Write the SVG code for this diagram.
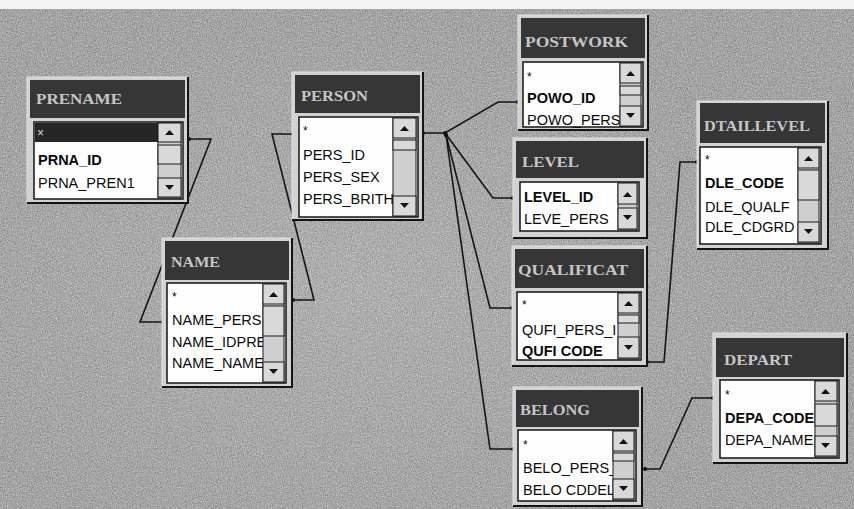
<svg xmlns="http://www.w3.org/2000/svg" width="854" height="509" viewBox="0 0 854 509">
<defs>
<filter id="noise" x="0" y="0" width="100%" height="100%" color-interpolation-filters="sRGB">
<feTurbulence type="fractalNoise" baseFrequency="0.8" numOctaves="2" seed="4" result="t"/>
<feColorMatrix in="t" type="matrix" values="0.4 0 0 0 0.44  0.4 0 0 0 0.44  0.4 0 0 0 0.44  0 0 0 0 1"/>
</filter>
<radialGradient id="glow" cx="0.42" cy="0.55" r="0.55">
<stop offset="0" stop-color="#ffffff" stop-opacity="0.12"/>
<stop offset="1" stop-color="#ffffff" stop-opacity="0"/>
</radialGradient>
<marker id="dot" viewBox="0 0 6 6" refX="3" refY="3" markerWidth="4" markerHeight="4" markerUnits="userSpaceOnUse">
<circle cx="3" cy="3" r="3" fill="#111"/>
</marker>
<style>
.frame{fill:#d2d2d2;stroke:#e2e2e2;stroke-width:1}
.shadow{fill:none;stroke:#141414;stroke-width:2}
.title{fill:#363636}
.ttext{font-family:"Liberation Serif","Times New Roman",serif;font-weight:bold;font-size:15px;fill:#c6c6c6}
.list{fill:#fdfdfd;stroke:#151515;stroke-width:1.5}
.row{font-family:"Liberation Sans",Arial,sans-serif;font-size:14.5px;fill:#0c0c0c}
.key{font-weight:bold}
.star{font-family:"Liberation Sans",Arial,sans-serif;font-size:12px;fill:#0c0c0c}
.sb{fill:#cfcfcf;stroke:#1a1a1a;stroke-width:1}
.btn{fill:#d9d9d9;stroke:#1a1a1a;stroke-width:1}
.arr{fill:#111}
.sel{fill:#262626}
.conn{fill:none;stroke:#151515;stroke-width:1.6;marker-start:url(#dot);marker-end:url(#dot)}
</style>
</defs>
<rect x="0" y="0" width="854" height="509" fill="#f4f4f4"/>
<rect x="0" y="9" width="854" height="500" fill="#a8a8a8" filter="url(#noise)"/>
<rect x="0" y="9" width="854" height="500" fill="url(#glow)"/>

<g id="connectors">
<path class="conn" d="M189,139 L211,139 L140,322 L163,322"/>
<path class="conn" d="M293,300 L314,300 L272,134 L293,134"/>
<path class="conn" d="M423,133 L445,133 L498,102 L518,102"/>
<path class="conn" d="M445,133 L493,198 L513,198"/>
<path class="conn" d="M446,135 L490,308 L512,308"/>
<path class="conn" d="M446,135 L490,449 L513,449"/>
<path class="conn" d="M647,362 L664,362 L680,162 L697,162"/>
<path class="conn" d="M645,469 L660,469 L692,398 L713,398"/>
</g>

<g id="prename">
<rect class="frame" x="27" y="77" width="161" height="126"/>
<path class="shadow" d="M188,77 V203 H27"/>
<rect class="title" x="30" y="80" width="155" height="38"/>
<text class="ttext" x="36" y="104" textLength="86" lengthAdjust="spacingAndGlyphs">PRENAME</text>
<rect class="list" x="34" y="122" width="149" height="77"/>
<rect class="sel" x="35" y="123" width="123" height="19"/>
<text class="star" x="37" y="137" style="fill:#dddddd">×</text>
<text class="row key" x="38" y="165">PRNA_ID</text>
<text class="row" x="38" y="188">PRNA_PREN1</text>
<rect class="sb" x="158" y="123" width="23" height="75"/>
<rect class="btn" x="158" y="123" width="23" height="19"/>
<polygon class="arr" points="165,135 174,135 169.5,130"/>
<rect class="btn" x="158" y="145" width="23" height="19"/>
<rect class="btn" x="158" y="178" width="23" height="19"/>
<polygon class="arr" points="165,185 174,185 169.5,190"/>
</g>

<g id="person">
<rect class="frame" x="292" y="72" width="131" height="148"/>
<path class="shadow" d="M423,72 V220 H292"/>
<rect class="title" x="295" y="75" width="125" height="38"/>
<text class="ttext" x="301" y="101" textLength="67" lengthAdjust="spacingAndGlyphs">PERSON</text>
<rect class="list" x="299" y="117" width="119" height="100"/>
<text class="star" x="303" y="135">*</text>
<text class="row" x="303" y="160">PERS_ID</text>
<text class="row" x="303" y="182">PERS_SEX</text>
<text class="row" x="303" y="204">PERS_BRITH</text>
<rect class="sb" x="393" y="118" width="23" height="98"/>
<rect class="btn" x="393" y="118" width="23" height="20"/>
<polygon class="arr" points="400,131 409,131 404.5,126"/>
<rect class="btn" x="393" y="140" width="23" height="10"/>
<rect class="btn" x="393" y="196" width="23" height="20"/>
<polygon class="arr" points="400,203 409,203 404.5,208"/>
</g>

<g id="name">
<rect class="frame" x="162" y="238" width="130" height="149"/>
<path class="shadow" d="M292,238 V387 H162"/>
<rect class="title" x="165" y="241" width="124" height="39"/>
<text class="ttext" x="171" y="267" textLength="49" lengthAdjust="spacingAndGlyphs">NAME</text>
<rect class="list" x="167" y="283" width="119" height="100"/>
<text class="star" x="172" y="301">*</text>
<text class="row" x="172" y="325">NAME_PERS</text>
<text class="row" x="172" y="347">NAME_IDPRE</text>
<text class="row" x="172" y="368">NAME_NAME</text>
<rect class="sb" x="263" y="284" width="21" height="98"/>
<rect class="btn" x="263" y="284" width="21" height="20"/>
<polygon class="arr" points="269,297 278,297 273.5,292"/>
<rect class="btn" x="263" y="306" width="21" height="30"/>
<rect class="btn" x="263" y="362" width="21" height="20"/>
<polygon class="arr" points="269,369 278,369 273.5,374"/>
</g>

<g id="postwork">
<rect class="frame" x="518" y="15" width="130" height="115"/>
<path class="shadow" d="M648,15 V130 H518"/>
<rect class="title" x="521" y="18" width="124" height="40"/>
<text class="ttext" x="525" y="47" textLength="103" lengthAdjust="spacingAndGlyphs">POSTWORK</text>
<rect class="list" x="523" y="62" width="120" height="65"/>
<text class="star" x="527" y="81">*</text>
<text class="row key" x="527" y="103">POWO_ID</text>
<text class="row" x="527" y="125">POWO_PERS</text>
<rect class="sb" x="620" y="63" width="21" height="63"/>
<rect class="btn" x="620" y="63" width="21" height="20"/>
<polygon class="arr" points="626,76 635,76 630.5,71"/>
<rect class="btn" x="620" y="86" width="21" height="9"/>
<rect class="btn" x="620" y="106" width="21" height="20"/>
<polygon class="arr" points="626,113 635,113 630.5,118"/>
</g>

<g id="level">
<rect class="frame" x="513" y="138" width="134" height="100"/>
<path class="shadow" d="M647,138 V238 H513"/>
<rect class="title" x="516" y="141" width="128" height="37"/>
<text class="ttext" x="522" y="167" textLength="57" lengthAdjust="spacingAndGlyphs">LEVEL</text>
<rect class="list" x="520" y="182" width="119" height="49"/>
<text class="row key" x="524" y="202">LEVEL_ID</text>
<text class="row" x="524" y="224">LEVE_PERS</text>
<rect class="sb" x="618" y="183" width="19" height="47"/>
<rect class="btn" x="618" y="183" width="19" height="21"/>
<polygon class="arr" points="623,197 632,197 627.5,192"/>
<rect class="btn" x="618" y="208" width="19" height="21"/>
<polygon class="arr" points="623,215 632,215 627.5,220"/>
</g>

<g id="qualificat">
<rect class="frame" x="512" y="246" width="135" height="120"/>
<path class="shadow" d="M647,246 V366 H512"/>
<rect class="title" x="515" y="249" width="129" height="39"/>
<text class="ttext" x="518" y="275" textLength="110" lengthAdjust="spacingAndGlyphs">QUALIFICAT</text>
<rect class="list" x="517" y="292" width="124" height="68"/>
<text class="star" x="522" y="309">*</text>
<text class="row" x="522" y="335">QUFI_PERS_I</text>
<text class="row key" x="522" y="356">QUFI CODE</text>
<rect class="sb" x="618" y="293" width="21" height="66"/>
<rect class="btn" x="618" y="293" width="21" height="20"/>
<polygon class="arr" points="624,306 633,306 628.5,301"/>
<rect class="btn" x="618" y="315" width="21" height="8"/>
<rect class="btn" x="618" y="337" width="21" height="21"/>
<polygon class="arr" points="624,345 633,345 628.5,350"/>
</g>

<g id="belong">
<rect class="frame" x="513" y="387" width="129" height="119"/>
<path class="shadow" d="M642,387 V506 H513"/>
<rect class="title" x="516" y="390" width="123" height="37"/>
<text class="ttext" x="520" y="415" textLength="70" lengthAdjust="spacingAndGlyphs">BELONG</text>
<rect class="list" x="518" y="430" width="118" height="71"/>
<text class="star" x="523" y="449">*</text>
<text class="row" x="523" y="473">BELO_PERS_</text>
<text class="row" x="523" y="495">BELO CDDEL</text>
<rect class="sb" x="613" y="431" width="21" height="69"/>
<rect class="btn" x="613" y="431" width="21" height="20"/>
<polygon class="arr" points="619,444 628,444 623.5,439"/>
<rect class="btn" x="613" y="453" width="21" height="8"/>
<rect class="btn" x="613" y="479" width="21" height="20"/>
<polygon class="arr" points="619,486 628,486 623.5,491"/>
</g>

<g id="dtaillevel">
<rect class="frame" x="697" y="101" width="131" height="148"/>
<path class="shadow" d="M828,101 V249 H697"/>
<rect class="title" x="700" y="103" width="125" height="40"/>
<text class="ttext" x="704" y="131" textLength="106" lengthAdjust="spacingAndGlyphs">DTAILLEVEL</text>
<rect class="list" x="700" y="147" width="121" height="97"/>
<text class="star" x="705" y="164">*</text>
<text class="row key" x="705" y="188">DLE_CODE</text>
<text class="row" x="705" y="212">DLE_QUALF</text>
<text class="row" x="705" y="232">DLE_CDGRD</text>
<rect class="sb" x="798" y="148" width="21" height="95"/>
<rect class="btn" x="798" y="148" width="21" height="20"/>
<polygon class="arr" points="804,161 813,161 808.5,156"/>
<rect class="btn" x="798" y="170" width="21" height="30"/>
<rect class="btn" x="798" y="222" width="21" height="20"/>
<polygon class="arr" points="804,229 813,229 808.5,234"/>
</g>

<g id="depart">
<rect class="frame" x="713" y="333" width="134" height="130"/>
<path class="shadow" d="M847,333 V463 H713"/>
<rect class="title" x="716" y="338" width="128" height="39"/>
<text class="ttext" x="724" y="365" textLength="68" lengthAdjust="spacingAndGlyphs">DEPART</text>
<rect class="list" x="720" y="380" width="119" height="78"/>
<text class="star" x="725" y="399">*</text>
<text class="row key" x="725" y="423">DEPA_CODE</text>
<text class="row" x="725" y="445">DEPA_NAME</text>
<rect class="sb" x="815" y="381" width="22" height="76"/>
<rect class="btn" x="815" y="381" width="22" height="20"/>
<polygon class="arr" points="821,394 830,394 825.5,389"/>
<rect class="btn" x="815" y="404" width="22" height="22"/>
<rect class="btn" x="815" y="436" width="22" height="20"/>
<polygon class="arr" points="821,443 830,443 825.5,448"/>
</g>
</svg>
